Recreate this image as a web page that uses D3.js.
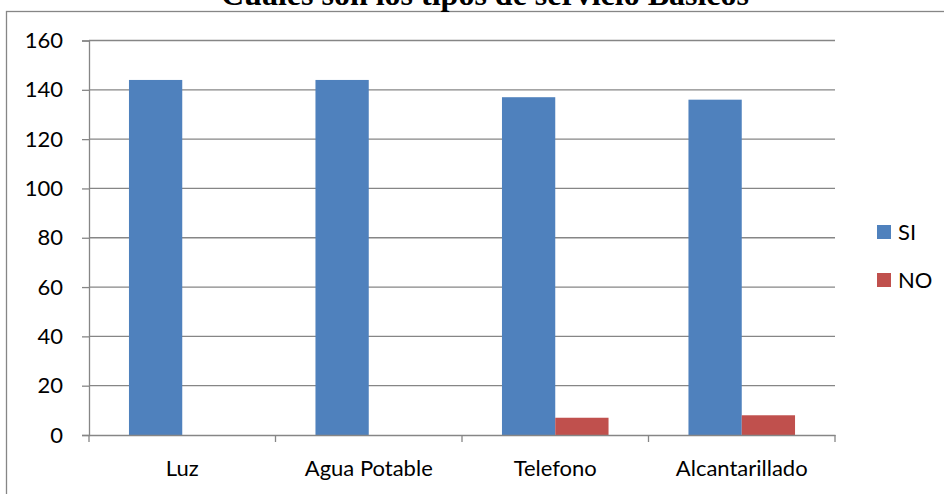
<!DOCTYPE html>
<html>
<head>
<meta charset="utf-8">
<script src="https://cdn.jsdelivr.net/npm/d3@7"></script>
<style>
  body { margin: 0; background: #fff; }
  svg { display: block; }
</style>
</head>
<body>
<svg id="chart" width="944" height="494"></svg>
<script>
var categories = ["Luz", "Agua Potable", "Telefono", "Alcantarillado"];
var series = ["SI", "NO"];
var siValues = [144, 144, 137, 136];
var noValues = [0, 0, 7, 8];
var yTicks = [0, 20, 40, 60, 80, 100, 120, 140, 160];
var colors = ["#4F81BD", "#C0504D"];

var rows = categories.map(function(c, i){
    return { cat: c, values: [siValues[i], noValues[i]] };
});

var svg = d3.select("#chart");
var fontFam = "Lato, 'Open Sans', sans-serif";
var fontSize = "22px";

// outer frame (runs off the picture on the right and bottom)
svg.append("rect")
    .attr("x", 6.5).attr("y", 11.5)
    .attr("width", 1000).attr("height", 600)
    .attr("fill", "none")
    .attr("stroke", "#868686")
    .attr("stroke-width", 1.3);

// title, mostly cut off at the top
svg.append("text")
    .attr("x", 485).attr("y", 5)
    .attr("text-anchor", "middle")
    .attr("font-family", "'Liberation Serif', 'Times New Roman', serif")
    .attr("font-weight", "bold")
    .attr("font-size", "32px")
    .text("Cuales son los tipos de servicio Basicos");

var plotLeft = 89, plotRight = 835, plotTop = 40.5, plotBottom = 435;

var y = d3.scaleLinear().domain([0, 160]).range([plotBottom, plotTop]);
var x0 = d3.scaleBand().domain(categories).range([plotLeft, plotRight]).padding(0);
var bar = x0.bandwidth() / 3.5;
var x1 = d3.scaleBand().domain(series).range([0.75 * bar, 2.75 * bar]).padding(0);

// gridlines
svg.append("g")
    .selectAll("line")
    .data(yTicks.filter(function(d){ return d > 0; }))
    .enter()
    .append("line")
    .attr("x1", plotLeft).attr("x2", plotRight)
    .attr("y1", function(d){ return y(d); })
    .attr("y2", function(d){ return y(d); })
    .attr("stroke", "#868686")
    .attr("stroke-width", 1.3);

// bars
var groups = svg.append("g")
    .selectAll("g")
    .data(rows)
    .enter()
    .append("g")
    .attr("transform", function(d){ return "translate(" + x0(d.cat) + ",0)"; });

groups.selectAll("rect")
    .data(function(d){ return d.values.map(function(v, i){ return { s: series[i], v: v, i: i }; }); })
    .enter()
    .append("rect")
    .attr("x", function(d){ return x1(d.s); })
    .attr("width", x1.bandwidth())
    .attr("y", function(d){ return y(d.v); })
    .attr("height", function(d){ return plotBottom - y(d.v); })
    .attr("fill", function(d){ return colors[d.i]; });

// y axis
var yAxis = svg.append("g")
    .attr("transform", "translate(" + plotLeft + ",0)")
    .call(d3.axisLeft(y).tickValues(yTicks).tickSize(7).tickPadding(19));
yAxis.select(".domain").attr("stroke", "#868686").attr("stroke-width", 1.3);
yAxis.selectAll(".tick line").attr("stroke", "#868686").attr("stroke-width", 1.3);
yAxis.selectAll(".tick text")
    .attr("font-family", fontFam)
    .attr("font-size", fontSize)
    .attr("fill", "#000");

// x axis
var xAxis = svg.append("g")
    .attr("transform", "translate(0," + plotBottom + ")")
    .call(d3.axisBottom(x0).tickSize(0).tickPadding(25));
xAxis.select(".domain").attr("stroke", "#868686").attr("stroke-width", 1.3);
xAxis.selectAll(".tick text")
    .attr("font-family", fontFam)
    .attr("font-size", fontSize)
    .attr("fill", "#000");

// category boundary ticks
svg.append("g")
    .selectAll("line")
    .data(categories.concat([null]))
    .enter()
    .append("line")
    .attr("x1", function(d){ return d === null ? plotRight : x0(d); })
    .attr("x2", function(d){ return d === null ? plotRight : x0(d); })
    .attr("y1", plotBottom).attr("y2", plotBottom + 7)
    .attr("stroke", "#868686")
    .attr("stroke-width", 1.3);

// legend
var legend = svg.append("g")
    .selectAll("g")
    .data(series)
    .enter()
    .append("g")
    .attr("transform", function(d, i){ return "translate(877," + (225 + i * 48) + ")"; });

legend.append("rect")
    .attr("width", 14).attr("height", 14)
    .attr("fill", function(d, i){ return colors[i]; });

legend.append("text")
    .attr("x", 21).attr("y", 7)
    .attr("dy", "0.36em")
    .attr("font-family", fontFam)
    .attr("font-size", fontSize)
    .text(function(d){ return d; });
</script>
</body>
</html>
